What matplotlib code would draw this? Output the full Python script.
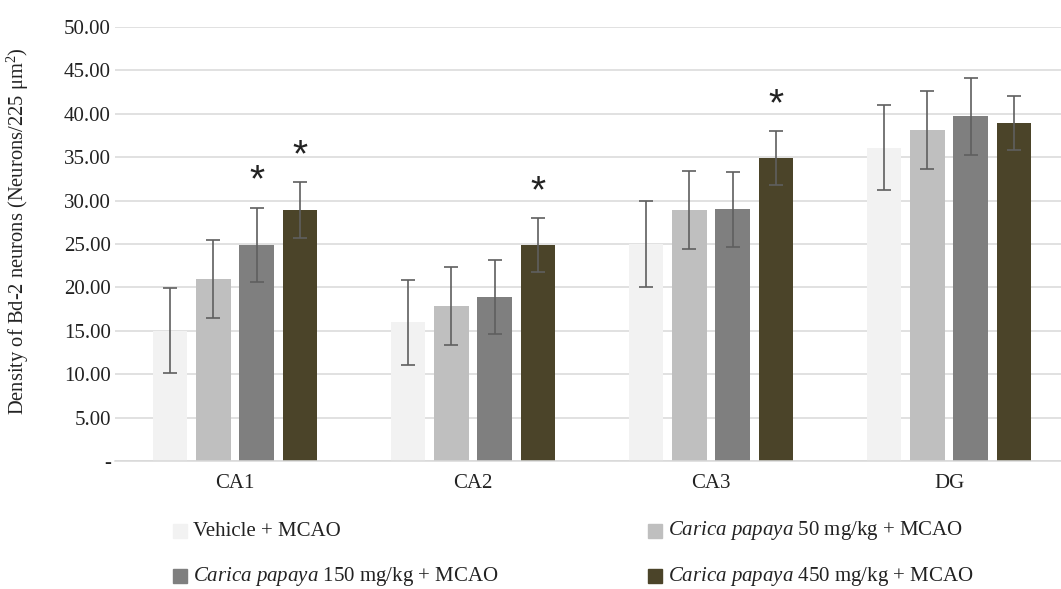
import numpy as np
import matplotlib
matplotlib.use("Agg")
import matplotlib.pyplot as plt
from matplotlib.patches import Rectangle

plt.rcParams['font.family'] = ['Liberation Serif', 'DejaVu Serif']
plt.rcParams['mathtext.fontset'] = 'custom'
plt.rcParams['mathtext.rm'] = 'Liberation Serif'
plt.rcParams['mathtext.it'] = 'Liberation Serif:italic'

# Daten
regions = ['CA1', 'CA2', 'CA3', 'DG']
groups = ['Vehicle + MCAO',
          r'$\it{Carica\ papaya}$ 50 mg/kg + MCAO',
          r'$\it{Carica\ papaya}$ 150 mg/kg + MCAO',
          r'$\it{Carica\ papaya}$ 450 mg/kg + MCAO']
vehicle = [15.0, 16.0, 25.0, 36.1]
papaya50 = [21.0, 17.9, 28.9, 38.1]
papaya150 = [24.9, 18.9, 29.0, 39.7]
papaya450 = [28.9, 24.9, 34.9, 38.9]
err_vehicle = [4.9, 4.9, 4.9, 4.9]
err_50 = [4.5, 4.5, 4.5, 4.5]
err_150 = [4.3, 4.3, 4.3, 4.4]
err_450 = [3.2, 3.1, 3.1, 3.1]
# Signifikanz (Gruppe, Region)
stars = [(2, 0), (3, 0), (3, 1), (3, 2)]

colors = ['#f2f2f2', '#bfbfbf', '#7f7f7f', '#4b4429']

W, H = 1061, 589
fig = plt.figure(figsize=(W / 100, H / 100), dpi=100)
ax = fig.add_axes([115 / W, 1 - 461 / H, (W - 115) / W, (461 - 27) / H])

x = np.arange(len(regions))
step = 0.182
width = 0.145
values = [vehicle, papaya50, papaya150, papaya450]
errs = [err_vehicle, err_50, err_150, err_450]
for i, (v, e) in enumerate(zip(values, errs)):
    pos = x + (i - 1.5) * step
    ax.bar(pos, v, width, color=colors[i], zorder=2)
    ax.errorbar(pos, v, yerr=e, fmt='none', ecolor='#5f5f5f', elinewidth=1.2,
                capsize=4.7, capthick=1.2, zorder=3)

for g, r in stars:
    px = x[r] + (g - 1.5) * step
    top = values[g][r] + errs[g][r]
    ax.text(px, top + 3.0, '*', ha='center', va='center', fontsize=28,
            family='Liberation Sans', color='#222222')

ax.set_ylim(0, 50)
ax.set_xlim(-120 / 238, 3 + (W - 949) / 238)
ax.set_yticks(np.arange(0, 51, 5))
ax.set_yticklabels(['-'] + ['%.2f' % v for v in np.arange(5, 51, 5)])
ax.set_xticks(x)
ax.set_xticklabels(regions)
ax.tick_params(axis='both', length=0, labelsize=15, colors='#222222')
ax.tick_params(axis='y', pad=3)
ax.tick_params(axis='x', pad=9)
ax.yaxis.grid(True, color='#d9d9d9', lw=1.1, zorder=0)
ax.set_axisbelow(True)
for s in ['top', 'right', 'left']:
    ax.spines[s].set_visible(False)
ax.spines['bottom'].set_color('#d9d9d9')
ax.spines['bottom'].set_linewidth(1.1)

fig.text(18 / W, 1 - 231 / H, 'Density of Bd-2 neurons (Neurons/225 μm$^{2}$)',
         rotation=90, ha='center', va='center', fontsize=14.8, color='#222222')

# Legende von Hand
leg_pos = [(180, 531), (655, 531), (180, 576), (655, 576)]
for (lx, ly), lab, c in zip(leg_pos, groups, colors):
    sz = 14
    fig.patches.append(Rectangle(((lx - sz / 2) / W, 1 - (ly + sz / 2) / H), sz / W, sz / H,
                                 transform=fig.transFigure, color=c, figure=fig))
    fig.text((lx + 13) / W, 1 - ly / H, lab, ha='left', va='center', fontsize=15,
             color='#222222')

fig.savefig('out.png', dpi=100)
